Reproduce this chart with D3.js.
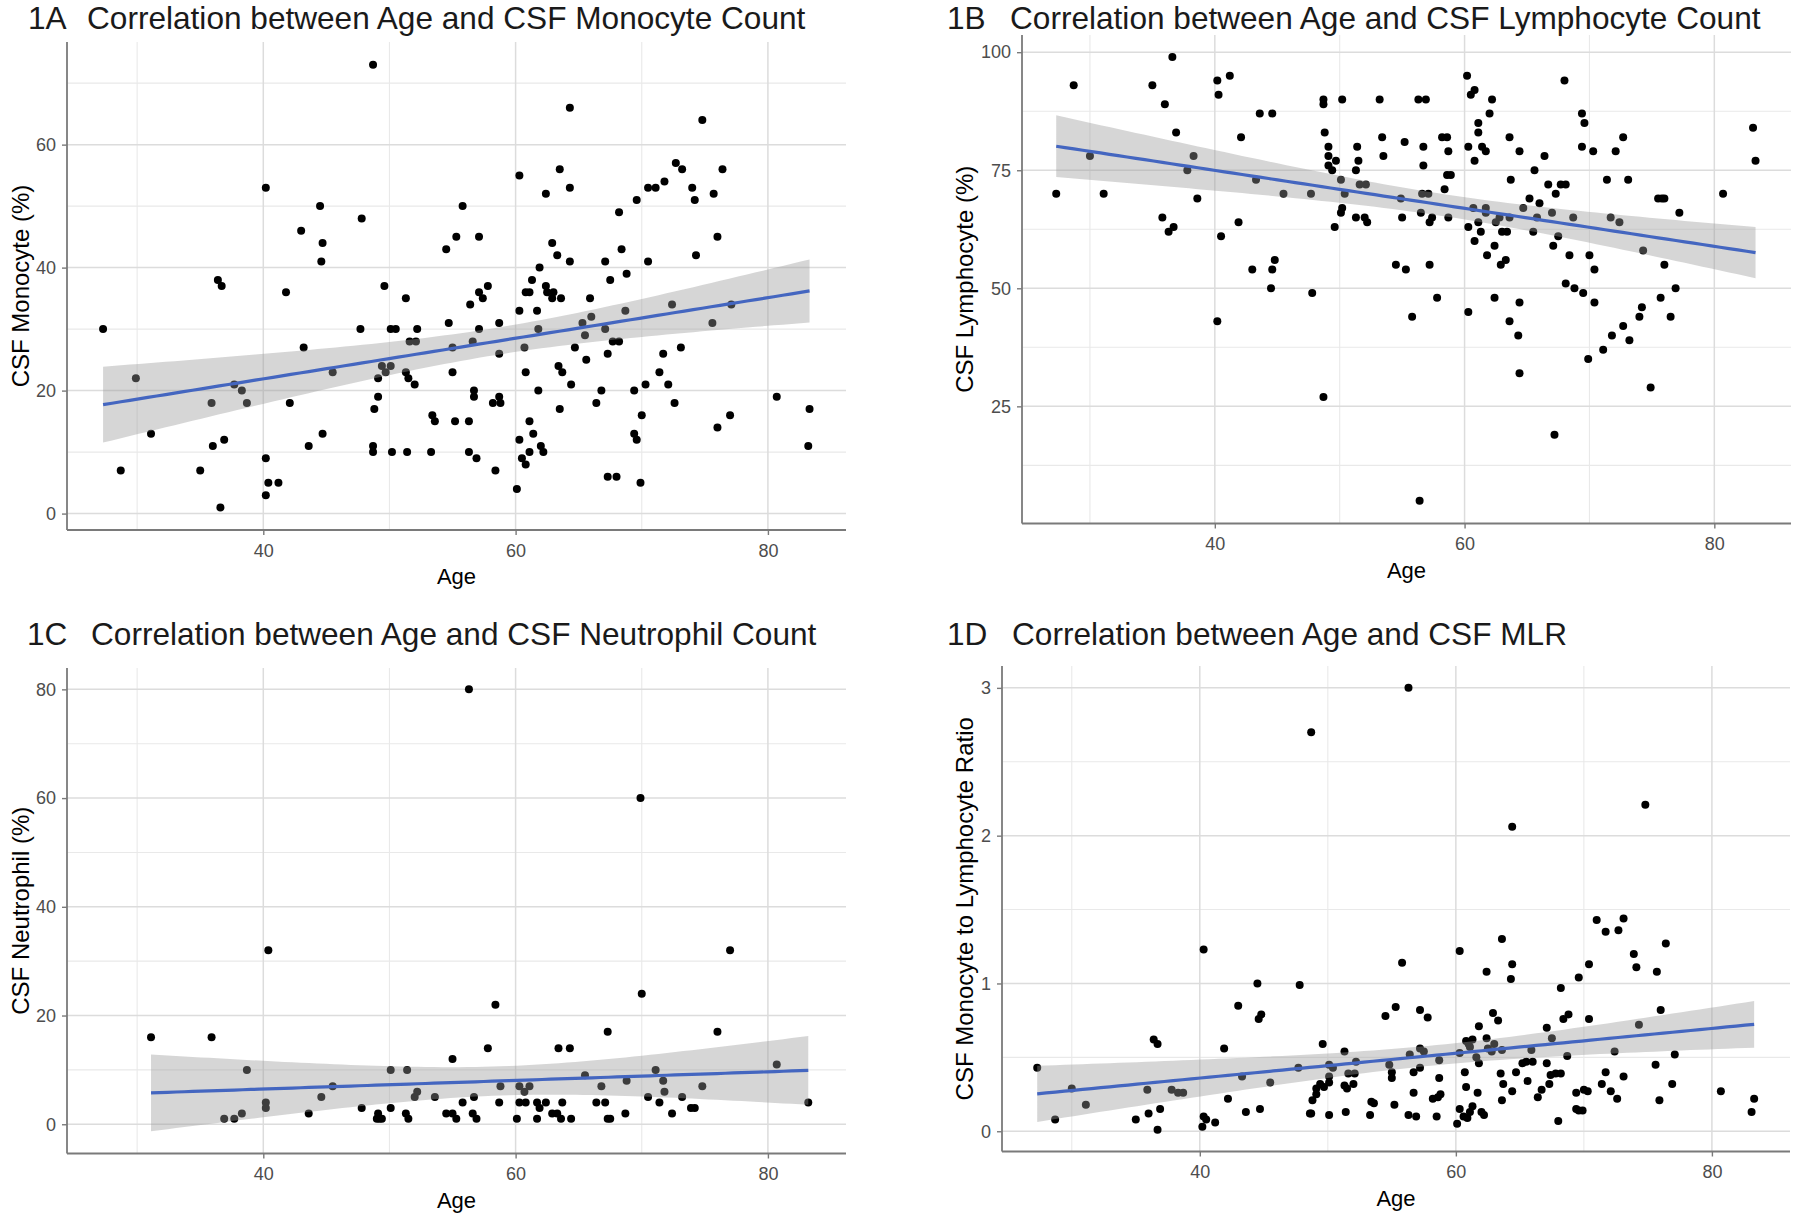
<!DOCTYPE html>
<html><head><meta charset="utf-8">
<script src="https://cdn.jsdelivr.net/npm/d3@7"></script>
<style>
body{margin:0;background:#fff}
svg{display:block}
text{font-family:"Liberation Sans",Arial,sans-serif}
</style>
</head><body>
<svg id="chart" width="1800" height="1220"></svg>
<script>
// ---------- data ----------
const monoAge = [27.3,28.7,29.9,31.1,35.0,35.9,36.0,36.4,36.7,36.6,36.9,37.7,38.3,38.7,40.2,40.2,40.2,40.4,41.2,41.8,42.1,43.0,43.2,43.6,44.5,44.6,44.7,44.7,45.5,47.8,47.7,48.7,48.7,48.7,48.8,49.1,49.1,49.4,49.6,49.7,50.1,50.1,50.5,50.2,51.3,51.3,51.5,51.6,52.1,52.2,52.0,51.4,53.4,53.6,53.3,54.5,54.7,55.0,55.0,55.2,55.3,55.8,56.3,56.3,56.4,56.6,56.7,56.7,56.9,57.1,57.1,57.4,57.1,57.8,58.4,58.7,58.7,58.2,58.7,58.8,60.1,60.3,60.3,60.3,60.5,60.8,60.7,60.8,61.1,61.1,61.4,60.8,61.1,61.3,61.9,61.7,61.8,61.8,62.0,62.2,62.4,62.4,62.5,62.9,62.9,63.0,63.3,63.5,63.6,63.4,63.7,63.5,64.3,64.3,64.3,64.4,64.7,65.3,65.5,65.6,65.9,66.0,66.4,66.8,67.1,67.1,67.3,67.5,67.3,67.7,68.2,68.0,68.2,68.4,68.7,68.8,69.4,69.4,69.6,69.6,69.9,70.0,70.3,70.5,70.5,71.1,71.4,71.7,71.8,72.1,72.4,72.6,72.7,73.2,73.1,74.0,74.2,74.3,74.8,75.6,75.7,76.0,76.0,76.4,77.0,77.1,80.7,83.2,83.3];
const monoVal = [30,7,22,13,7,18,11,38,37,1,12,21,20,18,53,9,3,5,5,36,18,46,27,11,50,41,44,13,23,48,30,73,11,10,17,19,22,24,37,23,24,30,30,10,35,23,22,28,28,30,21,10,16,15,10,43,31,23,27,15,45,50,15,10,34,28,20,19,9,45,36,35,30,37,7,31,26,18,19,18,4,12,55,33,9,8,27,23,15,10,13,36,36,38,40,33,30,20,11,10,52,37,36,44,35,36,42,56,35,24,23,17,66,53,41,21,27,31,29,25,35,32,18,20,41,30,6,38,26,28,28,6,49,43,33,39,20,13,12,51,5,16,21,53,41,53,23,26,54,21,34,18,57,56,27,53,51,42,64,31,52,14,45,56,16,34,19,11,17];

const lymphAge = [27.3,28.7,30.0,31.1,35.0,36.0,35.8,36.6,36.3,36.7,36.9,37.8,38.3,38.6,40.2,40.3,40.2,40.5,41.2,41.9,42.1,43.0,43.3,43.6,44.5,44.6,44.6,44.8,45.5,47.7,47.8,48.7,48.7,48.7,48.8,49.1,49.1,49.1,49.4,49.6,49.7,50.1,50.2,50.2,50.1,50.4,51.3,51.4,51.5,51.6,52.1,51.3,52.0,52.2,53.2,53.4,53.5,54.5,55.2,54.9,55.0,55.3,55.8,56.3,56.9,56.4,56.5,56.7,56.7,56.6,57.1,57.2,57.4,57.2,57.8,58.2,58.6,58.7,58.4,58.6,58.9,58.7,60.2,60.5,60.8,60.3,60.3,60.3,60.7,60.8,60.8,61.1,61.1,61.1,61.3,61.4,61.7,61.7,61.7,61.8,62.0,62.2,62.4,62.4,62.5,62.8,62.9,63.3,63.0,63.4,63.6,63.6,63.7,63.6,64.3,64.4,64.4,64.4,64.7,65.2,65.5,65.6,66.0,65.8,66.4,66.7,67.0,67.1,67.2,67.3,67.5,67.7,68.1,68.0,68.1,68.4,68.7,68.8,69.4,69.6,69.4,69.5,69.9,70.0,70.3,70.4,70.4,71.1,71.4,71.7,71.8,72.1,72.4,72.7,72.7,73.1,73.2,74.0,74.2,74.3,74.9,75.7,75.5,75.8,76.0,76.0,76.5,76.9,77.2,80.7,83.1,83.3];
const lymphVal = [70,93,78,70,93,89,65,99,62,63,83,75,78,69,94,91,43,61,95,64,82,54,73,87,50,54,87,56,70,70,49,27,90,89,83,80,78,76,75,63,77,73,90,67,66,70,75,80,77,72,72,65,65,64,90,82,78,55,81,69,65,54,44,90,90,5,66,80,76,70,70,64,65,55,48,82,82,79,71,74,74,65,95,91,92,80,63,45,67,77,60,85,83,64,62,80,79,67,66,57,87,90,59,48,64,65,55,56,62,62,82,65,73,43,40,79,47,32,67,69,62,75,68,65,78,72,66,59,19,70,61,72,72,94,51,57,65,50,87,85,80,49,35,57,79,47,54,37,73,65,40,79,64,82,42,73,39,44,46,58,29,48,69,69,69,55,44,50,66,70,84,77];

const neutAge = [31.1,35.9,36.9,37.7,38.3,38.7,40.2,40.2,40.4,43.6,44.6,45.5,47.8,49.1,49.2,49.4,49.0,50.1,50.1,51.3,51.5,51.4,52.0,52.2,53.6,54.5,55.0,55.3,55.0,55.8,56.3,56.7,56.6,56.9,57.8,58.4,58.7,58.8,60.1,60.3,60.3,60.7,60.8,61.1,61.7,61.7,61.9,62.4,62.9,63.3,63.6,63.4,64.3,63.7,64.4,65.5,66.4,66.8,67.1,67.3,67.3,67.5,68.7,68.8,69.9,70.0,70.5,71.1,71.4,71.7,71.8,72.4,73.2,73.9,74.2,74.8,76.0,77.0,80.7,83.2];
const neutVal = [16,16,1,1,2,10,3,4,32,2,5,7,3,2,1,1,1,10,3,2,1,10,5,6,5,2,2,1,12,4,80,5,2,1,14,22,4,7,1,7,4,6,4,7,1,4,3,4,2,2,1,14,14,4,1,9,4,7,4,17,1,1,2,8,60,24,5,10,4,8,6,2,5,3,3,7,17,32,11,4];

const mlrAge = [27.3,28.7,30.0,31.1,35.0,35.9,36.0,36.4,36.7,36.7,36.9,37.8,38.3,38.7,40.3,40.2,40.3,40.5,41.2,41.9,42.2,43.0,43.3,43.6,44.5,44.6,44.8,44.7,45.5,47.8,47.7,48.7,48.6,48.7,48.8,49.1,49.1,49.4,49.6,49.7,50.1,50.1,50.1,50.4,50.1,51.3,51.3,51.5,51.4,51.6,52.1,52.0,52.2,53.3,53.4,53.6,54.5,54.8,55.0,55.0,55.2,55.3,55.8,56.3,56.3,56.9,56.4,56.7,56.7,57.2,57.2,57.5,57.2,57.8,58.7,58.7,58.2,58.6,58.8,58.5,60.1,60.3,60.3,60.3,60.7,60.8,60.6,60.9,60.8,61.0,61.3,61.1,61.1,61.3,61.6,61.8,61.7,61.8,62.0,62.2,62.4,62.4,62.5,62.8,63.0,62.9,63.3,63.6,63.5,63.6,63.7,63.6,64.3,64.4,64.4,64.4,64.7,65.2,65.5,66.0,65.6,65.9,66.4,66.7,67.1,67.1,67.3,67.4,67.5,67.8,68.2,68.0,68.2,68.4,68.8,68.7,69.4,69.4,69.6,69.9,69.6,70.0,70.3,70.4,70.4,71.0,71.4,71.7,71.7,72.1,72.4,72.6,72.7,73.1,73.1,73.9,74.1,74.3,74.8,75.6,75.7,75.9,76.0,76.4,76.9,77.1,80.7,83.1,83.3];
const mlrVal = [0.43,0.08,0.29,0.18,0.08,0.28,0.12,0.62,0.59,0.01,0.15,0.28,0.26,0.26,1.23,0.03,0.10,0.08,0.06,0.56,0.22,0.85,0.37,0.13,1.00,0.76,0.79,0.15,0.33,0.99,0.43,2.70,0.12,0.12,0.21,0.25,0.29,0.32,0.59,0.30,0.33,0.45,0.37,0.43,0.11,0.54,0.31,0.29,0.13,0.39,0.39,0.32,0.47,0.11,0.20,0.19,0.78,0.45,0.40,0.36,0.18,0.84,1.14,3.00,0.11,0.10,0.52,0.40,0.26,0.82,0.56,0.54,0.43,0.77,0.48,0.36,0.22,0.23,0.25,0.10,0.05,1.22,0.53,0.15,0.40,0.30,0.10,0.09,0.61,0.59,0.62,0.57,0.13,0.17,0.50,0.46,0.26,0.71,0.13,0.11,1.08,0.63,0.56,0.54,0.59,0.80,0.75,0.55,0.39,1.30,0.32,0.21,1.03,1.13,2.06,0.27,0.40,0.46,0.47,0.47,0.34,0.55,0.23,0.28,0.46,0.70,0.32,0.38,0.63,0.39,0.39,0.07,0.97,0.76,0.79,0.51,0.26,0.15,0.14,0.14,1.04,0.28,0.27,1.13,0.76,1.43,0.32,0.40,1.35,0.27,0.54,0.22,1.36,0.37,1.44,1.20,1.11,0.72,2.21,0.45,1.08,0.21,0.82,1.27,0.32,0.52,0.27,0.13,0.22];

// tick labels
const xTicks = [40,60,80], xMinor = [30,50,70];
const monoTicks = [0,20,40,60], monoMinor = [10,30,50,70];
const lymphTicks = [25,50,75,100], lymphMinor = [12.5,37.5,62.5,87.5];
const neutTicks = [0,20,40,60,80], neutMinor = [10,30,50,70];
const mlrTicks = [0,1,2,3], mlrMinor = [0.5,1.5,2.5];
const tags = ["1A","1B","1C","1D"];
const titles = ["Correlation between Age and CSF Monocyte Count","Correlation between Age and CSF Lymphocyte Count","Correlation between Age and CSF Neutrophil Count","Correlation between Age and CSF MLR"];
const yLabels = ["CSF Monocyte (%)","CSF Lymphocyte (%)","CSF Neutrophil (%)","CSF Monocyte to Lymphocyte Ratio"];
const xLabel = "Age";

// ---------- layout ----------
const panels = [
  {age:monoAge, val:monoVal, yT:monoTicks, yM:monoMinor, xDom:[24.44,86.19], yDom:[-2.67,76.69],
   box:{l:67,r:846,t:42,b:530}, tagX:28, titleX:87, titleY:29, ylabX:29},
  {age:lymphAge, val:lymphVal, yT:lymphTicks, yM:lymphMinor, xDom:[24.56,86.14], yDom:[0.19,103.64],
   box:{l:1022,r:1791,t:35,b:523.5}, tagX:947, titleX:1010, titleY:29, ylabX:973},
  {age:neutAge, val:neutVal, yT:neutTicks, yM:neutMinor, xDom:[24.44,86.19], yDom:[-5.38,83.93],
   box:{l:67,r:846,t:668,b:1153.5}, tagX:27, titleX:91, titleY:645, ylabX:29},
  {age:mlrAge, val:mlrVal, yT:mlrTicks, yM:mlrMinor, xDom:[24.55,86.1], yDom:[-0.137,3.148],
   box:{l:1002,r:1790,t:666,b:1151.5}, tagX:947, titleX:1012, titleY:645, ylabX:973}
];

// t quantile (0.975) approximation (Cornish-Fisher)
function tq(df){const z=1.959964;return z+(z**3+z)/(4*df)+(5*z**5+16*z**3+3*z)/(96*df*df);}

function lmFit(xs, ys){
  const n=xs.length, mx=d3.mean(xs), my=d3.mean(ys);
  let sxx=0,sxy=0; xs.forEach((x,i)=>{sxx+=(x-mx)**2; sxy+=(x-mx)*(ys[i]-my);});
  const b=sxy/sxx, a=my-b*mx;
  let sse=0; xs.forEach((x,i)=>{sse+=(ys[i]-a-b*x)**2;});
  const s=Math.sqrt(sse/(n-2)), t=tq(n-2);
  const [x0,x1]=d3.extent(xs);
  return d3.range(80).map(k=>{const x=x0+(x1-x0)*k/79, y=a+b*x, se=s*Math.sqrt(1/n+(x-mx)**2/sxx);
    return {x, y, lo:y-t*se, hi:y+t*se};});
}

const svg = d3.select("#chart");
svg.append("rect").attr("width",1800).attr("height",1220).attr("fill","#fff");

panels.forEach((p,i)=>{
  const B=p.box;
  const x=d3.scaleLinear().domain(p.xDom).range([B.l,B.r]);
  const y=d3.scaleLinear().domain(p.yDom).range([B.b,B.t]);
  const g=svg.append("g");

  // grid
  const grid=g.append("g");
  grid.selectAll(".xm").data(xMinor).join("line").attr("class","xm").attr("x1",d=>x(d)).attr("x2",d=>x(d)).attr("y1",B.t).attr("y2",B.b)
    .attr("stroke","#e9e9e9").attr("stroke-width",1.1);
  grid.selectAll(".ym").data(p.yM).join("line").attr("class","ym").attr("y1",d=>y(d)).attr("y2",d=>y(d)).attr("x1",B.l).attr("x2",B.r)
    .attr("stroke","#e9e9e9").attr("stroke-width",1.1);
  grid.selectAll(".xM").data(xTicks).join("line").attr("class","xM").attr("x1",d=>x(d)).attr("x2",d=>x(d)).attr("y1",B.t).attr("y2",B.b)
    .attr("stroke","#dcdcdc").attr("stroke-width",1.5);
  grid.selectAll(".yM").data(p.yT).join("line").attr("class","yM").attr("y1",d=>y(d)).attr("y2",d=>y(d)).attr("x1",B.l).attr("x2",B.r)
    .attr("stroke","#dcdcdc").attr("stroke-width",1.5);

  // points
  g.append("g").selectAll("circle").data(p.age.map((a,k)=>[a,p.val[k]])).join("circle")
    .attr("cx",d=>x(d[0])).attr("cy",d=>y(d[1])).attr("r",4).attr("fill","#000");

  // smooth (linear model + 95% CI)
  const fit=lmFit(p.age,p.val);
  g.append("path").datum(fit).attr("d",d3.area().x(d=>x(d.x)).y0(d=>y(d.lo)).y1(d=>y(d.hi)))
    .attr("fill","#999999").attr("fill-opacity",0.4);
  g.append("path").datum(fit).attr("d",d3.line().x(d=>x(d.x)).y(d=>y(d.y)))
    .attr("fill","none").attr("stroke","#4466C0").attr("stroke-width",3.2);

  // axes
  const xa=g.append("g").attr("transform",`translate(0,${B.b})`)
    .call(d3.axisBottom(x).tickValues(xTicks).tickFormat(d=>d).tickSize(5).tickPadding(9).tickSizeOuter(0));
  const ya=g.append("g").attr("transform",`translate(${B.l},0)`)
    .call(d3.axisLeft(y).tickValues(p.yT).tickFormat(d=>d).tickSize(5).tickPadding(6).tickSizeOuter(0));
  [xa,ya].forEach(a=>{
    a.select(".domain").attr("stroke","#7a7a7a").attr("stroke-width",1.8);
    a.selectAll(".tick line").attr("stroke","#7a7a7a").attr("stroke-width",1.4);
    a.selectAll(".tick text").attr("fill","#4d4d4d").attr("font-size",18).attr("font-family","Liberation Sans, Arial, sans-serif");
  });
  xa.select(".domain").attr("d",`M${B.l},0H${B.r}`);
  ya.select(".domain").attr("d",`M0,${B.t}V${B.b}`);

  // titles
  g.append("text").attr("x",p.tagX).attr("y",p.titleY).attr("font-size",31.6).attr("fill","#1a1a1a").text(tags[i]);
  g.append("text").attr("x",p.titleX).attr("y",p.titleY).attr("font-size",31.6).attr("fill","#1a1a1a").text(titles[i]);
  g.append("text").attr("x",(B.l+B.r)/2).attr("y",B.b+54).attr("text-anchor","middle").attr("font-size",22).attr("fill","#000").text(xLabel);
  g.append("text").attr("transform",`translate(${p.ylabX},${(B.t+B.b)/2}) rotate(-90)`).attr("text-anchor","middle")
    .attr("font-size",24).attr("fill","#000").text(yLabels[i]);
});
</script>
</body></html>
